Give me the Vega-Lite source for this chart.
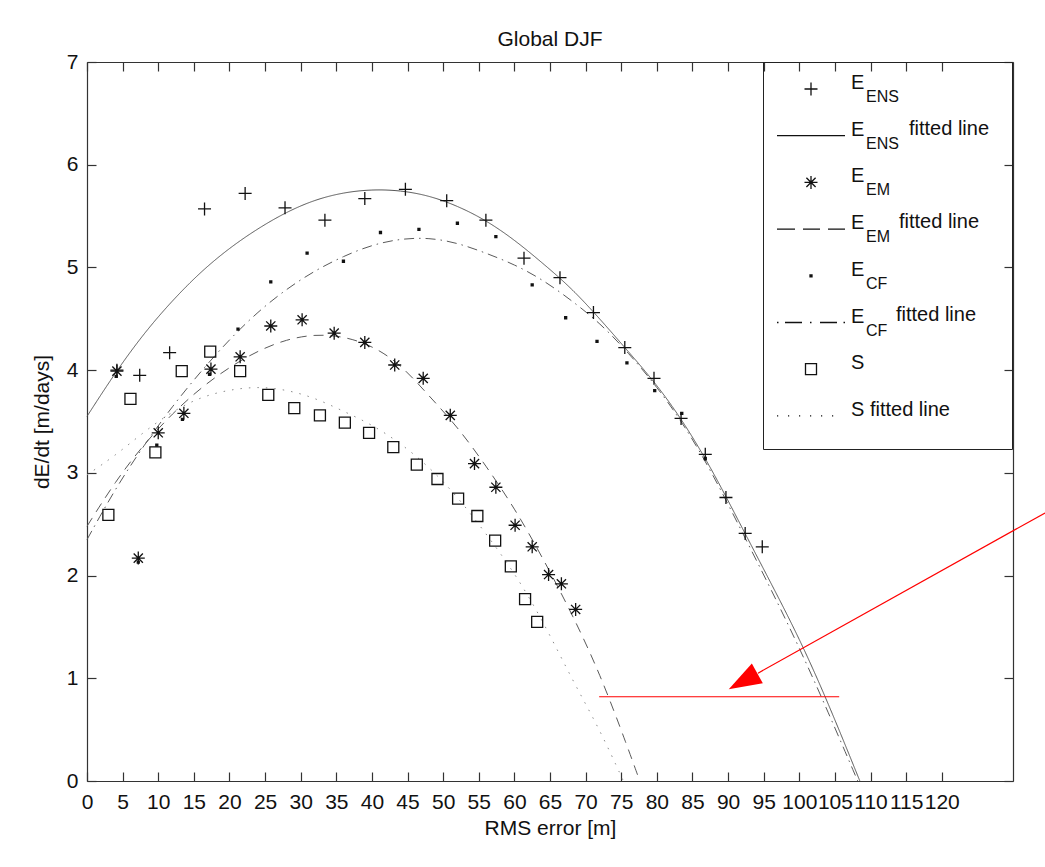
{
  "$schema": "https://vega.github.io/schema/vega-lite/v6.json",
  "autosize": {"type": "none"},
  "width": 926,
  "height": 719,
  "padding": {"left": 87, "top": 62, "right": 32, "bottom": 86},
  "background": "white",
  "config": {
    "font": "Liberation Sans",
    "view": {"stroke": null},
    "axis": {"grid": false, "domainColor": "#333", "tickColor": "#333", "domainWidth": 1.2, "tickWidth": 1.2, "labelColor": "#111", "titleColor": "#111", "titleFontWeight": "normal", "labelFont": "Liberation Sans", "titleFont": "Liberation Sans"}
  },
  "title": {"text": "Global DJF", "fontSize": 21, "fontWeight": "normal", "font": "Liberation Sans", "color": "#111", "frame": "group", "anchor": "middle", "baseline": "alphabetic", "offset": 20, "dy": 36},
  "datasets": {
    "pts": [
      {"series": "E_ENS", "x": 4.2, "y": 4.0}, {"series": "E_ENS", "x": 7.4, "y": 3.95}, {"series": "E_ENS", "x": 11.6, "y": 4.17}, {"series": "E_ENS", "x": 16.5, "y": 5.57}, {"series": "E_ENS", "x": 22.2, "y": 5.72}, {"series": "E_ENS", "x": 27.8, "y": 5.58}, {"series": "E_ENS", "x": 33.4, "y": 5.46}, {"series": "E_ENS", "x": 39.0, "y": 5.67}, {"series": "E_ENS", "x": 44.7, "y": 5.76}, {"series": "E_ENS", "x": 50.5, "y": 5.65}, {"series": "E_ENS", "x": 56.0, "y": 5.46}, {"series": "E_ENS", "x": 61.35, "y": 5.09}, {"series": "E_ENS", "x": 66.4, "y": 4.9}, {"series": "E_ENS", "x": 71.1, "y": 4.56}, {"series": "E_ENS", "x": 75.5, "y": 4.22}, {"series": "E_ENS", "x": 79.6, "y": 3.92}, {"series": "E_ENS", "x": 83.4, "y": 3.53}, {"series": "E_ENS", "x": 86.8, "y": 3.18}, {"series": "E_ENS", "x": 89.7, "y": 2.76}, {"series": "E_ENS", "x": 92.4, "y": 2.41}, {"series": "E_ENS", "x": 94.8, "y": 2.28},
      {"series": "E_EM", "x": 4.2, "y": 3.99}, {"series": "E_EM", "x": 7.2, "y": 2.17}, {"series": "E_EM", "x": 10.0, "y": 3.39}, {"series": "E_EM", "x": 13.6, "y": 3.58}, {"series": "E_EM", "x": 17.4, "y": 4.01}, {"series": "E_EM", "x": 21.5, "y": 4.13}, {"series": "E_EM", "x": 25.8, "y": 4.43}, {"series": "E_EM", "x": 30.2, "y": 4.49}, {"series": "E_EM", "x": 34.7, "y": 4.36}, {"series": "E_EM", "x": 39.0, "y": 4.27}, {"series": "E_EM", "x": 43.2, "y": 4.05}, {"series": "E_EM", "x": 47.2, "y": 3.92}, {"series": "E_EM", "x": 51.0, "y": 3.56}, {"series": "E_EM", "x": 54.4, "y": 3.09}, {"series": "E_EM", "x": 57.4, "y": 2.86}, {"series": "E_EM", "x": 60.1, "y": 2.49}, {"series": "E_EM", "x": 62.5, "y": 2.28}, {"series": "E_EM", "x": 64.8, "y": 2.01}, {"series": "E_EM", "x": 66.6, "y": 1.92}, {"series": "E_EM", "x": 68.6, "y": 1.67},
      {"series": "E_CF", "x": 4.1, "y": 3.94}, {"series": "E_CF", "x": 7.2, "y": 2.13}, {"series": "E_CF", "x": 9.8, "y": 3.27}, {"series": "E_CF", "x": 13.4, "y": 3.52}, {"series": "E_CF", "x": 17.2, "y": 3.96}, {"series": "E_CF", "x": 21.2, "y": 4.4}, {"series": "E_CF", "x": 25.8, "y": 4.86}, {"series": "E_CF", "x": 30.9, "y": 5.14}, {"series": "E_CF", "x": 36.0, "y": 5.06}, {"series": "E_CF", "x": 41.2, "y": 5.34}, {"series": "E_CF", "x": 46.6, "y": 5.37}, {"series": "E_CF", "x": 52.0, "y": 5.43}, {"series": "E_CF", "x": 57.4, "y": 5.3}, {"series": "E_CF", "x": 62.5, "y": 4.83}, {"series": "E_CF", "x": 67.2, "y": 4.51}, {"series": "E_CF", "x": 71.6, "y": 4.28}, {"series": "E_CF", "x": 75.8, "y": 4.07}, {"series": "E_CF", "x": 79.7, "y": 3.8}, {"series": "E_CF", "x": 83.5, "y": 3.58}, {"series": "E_CF", "x": 86.8, "y": 3.14},
      {"series": "S", "x": 3.0, "y": 2.59}, {"series": "S", "x": 6.1, "y": 3.72}, {"series": "S", "x": 9.6, "y": 3.2}, {"series": "S", "x": 13.3, "y": 3.99}, {"series": "S", "x": 17.3, "y": 4.18}, {"series": "S", "x": 21.5, "y": 3.99}, {"series": "S", "x": 25.45, "y": 3.76}, {"series": "S", "x": 29.1, "y": 3.63}, {"series": "S", "x": 32.7, "y": 3.56}, {"series": "S", "x": 36.2, "y": 3.49}, {"series": "S", "x": 39.6, "y": 3.39}, {"series": "S", "x": 43.0, "y": 3.25}, {"series": "S", "x": 46.3, "y": 3.08}, {"series": "S", "x": 49.2, "y": 2.94}, {"series": "S", "x": 52.1, "y": 2.75}, {"series": "S", "x": 54.8, "y": 2.58}, {"series": "S", "x": 57.3, "y": 2.34}, {"series": "S", "x": 59.5, "y": 2.09}, {"series": "S", "x": 61.5, "y": 1.77}, {"series": "S", "x": 63.2, "y": 1.55}
    ],
    "fits": [
      {"series": "E_ENS fitted line", "x": 0, "y": 3.55}, {"series": "E_ENS fitted line", "x": 4, "y": 3.98}, {"series": "E_ENS fitted line", "x": 8, "y": 4.36}, {"series": "E_ENS fitted line", "x": 12, "y": 4.68}, {"series": "E_ENS fitted line", "x": 16, "y": 4.96}, {"series": "E_ENS fitted line", "x": 20, "y": 5.19}, {"series": "E_ENS fitted line", "x": 24, "y": 5.38}, {"series": "E_ENS fitted line", "x": 28, "y": 5.54}, {"series": "E_ENS fitted line", "x": 32, "y": 5.66}, {"series": "E_ENS fitted line", "x": 36, "y": 5.73}, {"series": "E_ENS fitted line", "x": 40, "y": 5.76}, {"series": "E_ENS fitted line", "x": 44, "y": 5.75}, {"series": "E_ENS fitted line", "x": 48, "y": 5.7}, {"series": "E_ENS fitted line", "x": 52, "y": 5.6}, {"series": "E_ENS fitted line", "x": 56, "y": 5.46}, {"series": "E_ENS fitted line", "x": 60, "y": 5.27}, {"series": "E_ENS fitted line", "x": 64, "y": 5.04}, {"series": "E_ENS fitted line", "x": 68, "y": 4.8}, {"series": "E_ENS fitted line", "x": 72, "y": 4.5}, {"series": "E_ENS fitted line", "x": 76, "y": 4.18}, {"series": "E_ENS fitted line", "x": 80, "y": 3.86}, {"series": "E_ENS fitted line", "x": 84, "y": 3.47}, {"series": "E_ENS fitted line", "x": 88, "y": 3.0}, {"series": "E_ENS fitted line", "x": 92, "y": 2.46}, {"series": "E_ENS fitted line", "x": 96, "y": 1.93}, {"series": "E_ENS fitted line", "x": 100, "y": 1.39}, {"series": "E_ENS fitted line", "x": 104, "y": 0.77}, {"series": "E_ENS fitted line", "x": 108.5, "y": 0},
      {"series": "E_EM fitted line", "x": 0, "y": 2.48}, {"series": "E_EM fitted line", "x": 4, "y": 2.92}, {"series": "E_EM fitted line", "x": 8, "y": 3.28}, {"series": "E_EM fitted line", "x": 12, "y": 3.58}, {"series": "E_EM fitted line", "x": 16, "y": 3.83}, {"series": "E_EM fitted line", "x": 20, "y": 4.03}, {"series": "E_EM fitted line", "x": 24, "y": 4.19}, {"series": "E_EM fitted line", "x": 28, "y": 4.3}, {"series": "E_EM fitted line", "x": 32, "y": 4.35}, {"series": "E_EM fitted line", "x": 36, "y": 4.33}, {"series": "E_EM fitted line", "x": 40, "y": 4.24}, {"series": "E_EM fitted line", "x": 44, "y": 4.06}, {"series": "E_EM fitted line", "x": 48, "y": 3.75}, {"series": "E_EM fitted line", "x": 52, "y": 3.45}, {"series": "E_EM fitted line", "x": 56, "y": 3.07}, {"series": "E_EM fitted line", "x": 60, "y": 2.66}, {"series": "E_EM fitted line", "x": 64, "y": 2.17}, {"series": "E_EM fitted line", "x": 68, "y": 1.64}, {"series": "E_EM fitted line", "x": 72, "y": 1.05}, {"series": "E_EM fitted line", "x": 76, "y": 0.31}, {"series": "E_EM fitted line", "x": 77.6, "y": 0},
      {"series": "E_CF fitted line", "x": 0, "y": 2.35}, {"series": "E_CF fitted line", "x": 4, "y": 2.85}, {"series": "E_CF fitted line", "x": 8, "y": 3.27}, {"series": "E_CF fitted line", "x": 12, "y": 3.65}, {"series": "E_CF fitted line", "x": 16, "y": 3.99}, {"series": "E_CF fitted line", "x": 20, "y": 4.3}, {"series": "E_CF fitted line", "x": 24, "y": 4.57}, {"series": "E_CF fitted line", "x": 28, "y": 4.79}, {"series": "E_CF fitted line", "x": 32, "y": 4.97}, {"series": "E_CF fitted line", "x": 36, "y": 5.11}, {"series": "E_CF fitted line", "x": 40, "y": 5.22}, {"series": "E_CF fitted line", "x": 44, "y": 5.28}, {"series": "E_CF fitted line", "x": 48, "y": 5.29}, {"series": "E_CF fitted line", "x": 52, "y": 5.24}, {"series": "E_CF fitted line", "x": 56, "y": 5.14}, {"series": "E_CF fitted line", "x": 60, "y": 5.03}, {"series": "E_CF fitted line", "x": 64, "y": 4.88}, {"series": "E_CF fitted line", "x": 68, "y": 4.68}, {"series": "E_CF fitted line", "x": 72, "y": 4.46}, {"series": "E_CF fitted line", "x": 76, "y": 4.17}, {"series": "E_CF fitted line", "x": 80, "y": 3.84}, {"series": "E_CF fitted line", "x": 84, "y": 3.45}, {"series": "E_CF fitted line", "x": 88, "y": 2.97}, {"series": "E_CF fitted line", "x": 92, "y": 2.42}, {"series": "E_CF fitted line", "x": 96, "y": 1.87}, {"series": "E_CF fitted line", "x": 100, "y": 1.3}, {"series": "E_CF fitted line", "x": 104, "y": 0.68}, {"series": "E_CF fitted line", "x": 108.2, "y": 0},
      {"series": "S fitted line", "x": 0, "y": 2.98}, {"series": "S fitted line", "x": 4, "y": 3.17}, {"series": "S fitted line", "x": 8, "y": 3.4}, {"series": "S fitted line", "x": 12, "y": 3.6}, {"series": "S fitted line", "x": 16, "y": 3.74}, {"series": "S fitted line", "x": 20, "y": 3.81}, {"series": "S fitted line", "x": 24, "y": 3.84}, {"series": "S fitted line", "x": 28, "y": 3.81}, {"series": "S fitted line", "x": 32, "y": 3.73}, {"series": "S fitted line", "x": 36, "y": 3.6}, {"series": "S fitted line", "x": 40, "y": 3.47}, {"series": "S fitted line", "x": 44, "y": 3.29}, {"series": "S fitted line", "x": 48, "y": 3.06}, {"series": "S fitted line", "x": 52, "y": 2.77}, {"series": "S fitted line", "x": 56, "y": 2.41}, {"series": "S fitted line", "x": 60, "y": 2.03}, {"series": "S fitted line", "x": 64, "y": 1.56}, {"series": "S fitted line", "x": 68, "y": 1.0}, {"series": "S fitted line", "x": 72, "y": 0.5}, {"series": "S fitted line", "x": 75.3, "y": 0}
    ],
    "redlines": [
      {"x": 71.9, "y": 0.82, "x2": 105.6, "y2": 0.82},
      {"x": 134.5, "y": 2.61, "x2": 94.2, "y2": 1.05}
    ],
    "redhead": [
      {"x": 92.1, "y": 0.97}
    ]
  },
  "layer": [
    {
      "data": {"name": "fits"},
      "mark": {"type": "line", "strokeWidth": 1, "interpolate": "basis"},
      "encoding": {
        "x": {"field": "x", "type": "quantitative", "scale": {"domain": [0, 130], "nice": false, "zero": false},
              "axis": {"orient": "top", "values": [0,5,10,15,20,25,30,35,40,45,50,55,60,65,70,75,80,85,90,95,100,105,110,115,120], "labels": false, "title": null, "tickSize": -9}},
        "y": {"field": "y", "type": "quantitative", "scale": {"domain": [0, 7], "nice": false, "zero": false},
              "axis": {"orient": "right", "values": [0,1,2,3,4,5,6,7], "labels": false, "title": null, "tickSize": -9}},
        "detail": {"field": "series"},
        "strokeDash": {"field": "series", "type": "nominal", "legend": null,
          "scale": {"domain": ["E_ENS fitted line", "E_EM fitted line", "E_CF fitted line", "S fitted line"], "range": [[1, 0], [10, 7], [10, 5, 1.5, 5], [1.5, 7]]}},
        "color": {"field": "series", "type": "nominal", "legend": null,
          "scale": {"domain": ["E_ENS fitted line", "E_EM fitted line", "E_CF fitted line", "S fitted line"], "range": ["#555555", "#5a5a5a", "#5a5a5a", "#8a8a8a"]}},
        "strokeWidth": {"field": "series", "type": "nominal",
          "scale": {"domain": ["c1", "c2", "c3", "c4", "c5", "c6", "c7", "c8"], "range": [1, 1]},
          "legend": {
            "orient": "none", "legendX": 676, "legendY": 0, "title": null, "type": "symbol",
            "padding": 16, "rowPadding": 13.55, "symbolOffset": 21, "labelOffset": 75,
            "symbolSize": 400, "symbolStrokeWidth": 1.3, "symbolOpacity": 0, "symbolType": "M0,-1.8M0,1.4",
            "labelFont": "Liberation Sans", "labelFontSize": 20, "labelColor": "#111111", "labelBaseline": "alphabetic",
            "labelExpr": "datum.label == 'c2' || datum.label == 'c4' || datum.label == 'c6' ? 'fitted line' : '\u2003'",
            "encode": {"labels": {"update": {"dx": {"signal": "datum.value == 'c2' ? 13 : datum.value == 'c4' ? 3 : 0"}}}}
          }
        }
      }
    },
    {
      "data": {"name": "pts"},
      "mark": {"type": "point", "filled": false, "size": 400, "strokeWidth": 1.3, "opacity": 1, "color": "#111111"},
      "encoding": {
        "x": {"field": "x", "type": "quantitative",
              "axis": {"orient": "bottom", "values": [0,5,10,15,20,25,30,35,40,45,50,55,60,65,70,75,80,85,90,95,100,105,110,115,120], "tickSize": -9, "labelPadding": 19.5, "labelFontSize": 21, "labelOverlap": false, "labelFlush": false, "title": "RMS error [m]", "titleFontSize": 21, "titleX": 463, "titleY": 53, "titleBaseline": "alphabetic", "titleAlign": "center"}},
        "y": {"field": "y", "type": "quantitative",
              "axis": {"orient": "left", "values": [0,1,2,3,4,5,6,7], "tickSize": -9, "labelPadding": 18, "labelFontSize": 21, "labelOverlap": false, "labelFlush": false, "title": "dE/dt [m/days]", "titleFontSize": 21, "titleX": -39, "titleY": 359.5, "titleAngle": 270, "titleBaseline": "alphabetic", "titleAlign": "center"}},
        "shape": {"field": "series", "type": "nominal",
          "scale": {
            "domain": ["E_ENS", "E_ENS fitted line", "E_EM", "E_EM fitted line", "E_CF", "E_CF fitted line", "S", "S fitted line"],
            "range": [
              "M-0.65,0H0.65M0,-0.65V0.65M0,-1.8M0,1.4M18.2,0",
              "M-3.4,0H3.4M0,-1.8M0,1.4M18.2,0",
              "M-0.65,0H0.65M0,-0.65V0.65M-0.46,-0.46L0.46,0.46M-0.46,0.46L0.46,-0.46M0,-1.8M0,1.4M18.2,0",
              "M-3.4,0H-1.6M-0.8,0H0.9M1.7,0H3.4M0,-1.8M0,1.4M18.2,0",
              "M-0.1,-0.1H0.1V0.1H-0.1ZM-0.1,0H0.1M0,-0.1V0.1M0,-1.8M0,1.4M18.2,0",
              "M-3.4,0h0.15M-2.6,0H-0.9M-0.1,0h0.15M0.9,0H2.6M3.25,0h0.15M0,-1.8M0,1.4M18.2,0",
              "M-0.55,-0.55H0.55V0.55H-0.55ZM0,-1.8M0,1.4M18.2,0",
              "M-3.4,0h0.12M-2.3,0h0.12M-1.2,0h0.12M-0.1,0h0.12M1.0,0h0.12M2.1,0h0.12M0,-1.8M0,1.4M18.2,0"
            ]
          },
          "legend": {
            "orient": "none", "legendX": 676, "legendY": 0, "title": null, "type": "symbol",
            "padding": 16, "rowPadding": 8.7, "symbolOffset": 21, "labelOffset": 29,
            "symbolSize": 400, "symbolStrokeWidth": 1.3, "symbolStrokeColor": "#111111", "symbolFillColor": "transparent",
            "labelFont": "Liberation Sans", "labelFontSize": 20, "labelColor": "#111111", "labelBaseline": "alphabetic", "labelLimit": 400,
            "labelExpr": "datum.label == 'S' || datum.label == 'S fitted line' ? datum.label : 'E'",
            "strokeColor": "#222222", "cornerRadius": 0
          }
        },
        "opacity": {"field": "series", "type": "nominal",
          "scale": {"domain": ["ENS", "ENS fit", "EM", "EM fit", "CF", "CF fit", "S pt", "S fit"], "range": [1, 1]},
          "legend": {
            "orient": "none", "legendX": 676, "legendY": 0, "title": null, "type": "symbol",
            "padding": 16, "rowPadding": 8.7, "symbolOffset": 21, "labelOffset": 44,
            "symbolSize": 400, "symbolStrokeWidth": 1.3, "symbolOpacity": 0, "symbolType": "M0,-1.8M0,1.4",
            "labelFont": "Liberation Sans", "labelFontSize": 16, "labelColor": "#111111", "labelBaseline": "top",
            "labelExpr": "datum.label == 'S pt' || datum.label == 'S fit' ? '\u2003' : replace(datum.label, ' fit', '')"
          }
        }
      }
    },
    {
      "data": {"name": "redlines"},
      "mark": {"type": "rule", "color": "#ff0000", "strokeWidth": 1.2},
      "encoding": {
        "x": {"field": "x", "type": "quantitative", "axis": null},
        "y": {"field": "y", "type": "quantitative", "axis": null},
        "x2": {"field": "x2"},
        "y2": {"field": "y2"}
      }
    },
    {
      "data": {"name": "redhead"},
      "mark": {"type": "point", "filled": true, "opacity": 1, "color": "#ff0000", "size": 1070, "angle": 150.9, "shape": "M1,0L-1,-0.69L-1,0.69Z"},
      "encoding": {
        "x": {"field": "x", "type": "quantitative", "axis": null},
        "y": {"field": "y", "type": "quantitative", "axis": null}
      }
    }
  ],
  "resolve": {"axis": {"x": "independent", "y": "independent"}}
}
